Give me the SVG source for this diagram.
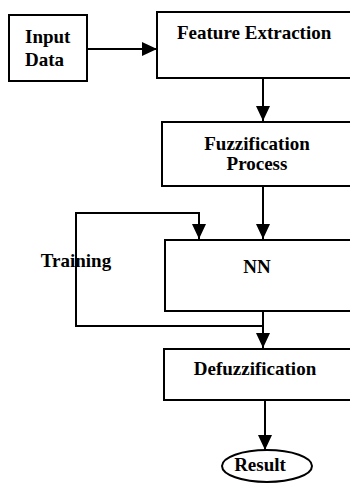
<svg xmlns="http://www.w3.org/2000/svg" width="350" height="485" viewBox="0 0 350 485">
<style>
.box{fill:#fff;stroke:#000;stroke-width:2}
.ln{fill:none;stroke:#000;stroke-width:2}
.t{font-family:"Liberation Serif","Times New Roman",serif;font-weight:bold;font-size:19px;fill:#000}
.c{text-anchor:middle}
</style>
<defs>
<marker id="ah" markerUnits="userSpaceOnUse" markerWidth="16" markerHeight="16" refX="15" refY="7" orient="auto">
<path d="M0,0 L15,7 L0,14 Z" fill="#000"/>
</marker>
</defs>
<rect width="350" height="485" fill="#fff"/>
<g id="connectors">
<line class="ln" x1="87" y1="49" x2="157" y2="49" marker-end="url(#ah)"/>
<line class="ln" x1="263" y1="78" x2="263" y2="121" marker-end="url(#ah)"/>
<line class="ln" x1="263" y1="186" x2="263" y2="239" marker-end="url(#ah)"/>
<polyline class="ln" points="263,311 263,326 76,326 76,213 199,213 199,239" marker-end="url(#ah)"/>
<line class="ln" x1="263" y1="326" x2="263" y2="348" marker-end="url(#ah)"/>
<line class="ln" x1="265" y1="400" x2="265" y2="450" marker-end="url(#ah)"/>
<text class="t c" x="76" y="267">Training</text>
</g>
<g id="input">
<rect class="box" x="9" y="15" width="78" height="66"/>
<text class="t" x="25" y="43">Input</text>
<text class="t" x="25" y="66">Data</text>
</g>
<g id="feature">
<rect class="box" x="157" y="12" width="200" height="66"/>
<text class="t" x="177" y="39">Feature Extraction</text>
</g>
<g id="fuzz">
<rect class="box" x="162" y="122" width="200" height="64"/>
<text class="t c" x="257" y="150">Fuzzification</text>
<text class="t c" x="257" y="170">Process</text>
</g>
<g id="nn">
<rect class="box" x="165" y="240" width="200" height="71"/>
<text class="t c" x="257" y="273">NN</text>
</g>
<g id="defuzz">
<rect class="box" x="164" y="349" width="200" height="51"/>
<text class="t c" x="255" y="375">Defuzzification</text>
</g>
<g id="result">
<ellipse class="box" cx="267" cy="466" rx="45" ry="16"/>
<text class="t c" x="260" y="471">Result</text>
</g>
</svg>
